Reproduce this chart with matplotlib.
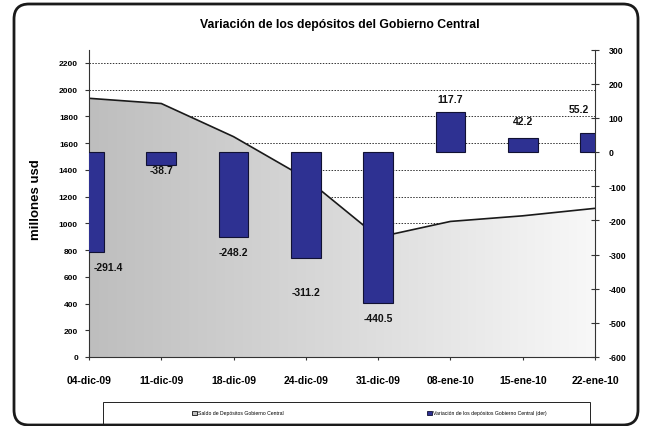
import numpy as np
import matplotlib
matplotlib.use('Agg')
import matplotlib.pyplot as plt
from matplotlib.colors import LinearSegmentedColormap
from matplotlib.patches import FancyBboxPatch, Rectangle, Patch

plt.rcParams['font.family'] = ['Liberation Sans', 'DejaVu Sans']
plt.rcParams['axes.unicode_minus'] = False

# datos
fechas = ['04-dic-09', '11-dic-09', '18-dic-09', '24-dic-09',
          '31-dic-09', '08-ene-10', '15-ene-10', '22-ene-10']
saldo = [1935, 1896, 1648, 1337, 896, 1014, 1056, 1112]
variacion = [-291.4, -38.7, -248.2, -311.2, -440.5, 117.7, 42.2, 55.2]
series = ['Saldo de Depósitos Gobierno Central',
          'Variación de los depósitos Gobierno Central (der)']

# separacion (px) entre barra y etiqueta
desfase = [15, 5, 15, 34, 15, 13, 17, 24]

W, H = 645, 427
fig = plt.figure(figsize=(W / 100, H / 100), dpi=100)

x = np.arange(len(fechas))
ax = fig.add_axes([89 / W, 1 - 358 / H, 506 / W, 307.5 / H])
ax2 = ax.twinx()

# area del saldo con degradado
area = ax.fill_between(x, saldo, 0, facecolor='none', edgecolor='none', zorder=1)
cmap = LinearSegmentedColormap.from_list('gris', ['#bebebe', '#dadada', '#f8f8f8'])
grad = np.linspace(0, 1, 256).reshape(1, -1)
img = ax.imshow(grad, cmap=cmap, extent=[0, 7, 0, 2300], aspect='auto',
                zorder=1.5, interpolation='bilinear')
img.set_clip_path(area.get_paths()[0], transform=ax.transData)
ax.plot(x, saldo, color='#1a1a1a', lw=1.2, zorder=2)

ax.set_xlim(0, 7)
ax.set_ylim(0, 2300)
ax.set_yticks(np.arange(0, 2201, 200))
ax.yaxis.grid(True, linestyle=(0, (1.5, 1.5)), color='#333333', lw=0.7)
ax.set_axisbelow(True)

# barras de variacion
ax2.bar(x, variacion, width=0.41, color='#2e3192', edgecolor='#111133', lw=0.8, zorder=3)
ax2.set_ylim(-600, 300)
ax2.set_yticks(np.arange(-600, 301, 100))

for i, v in enumerate(variacion):
    off = desfase[i] * 0.72
    dy = -off if v < 0 else off
    ha, dx = 'center', 0
    if i == 0:
        ha, dx = 'left', 3
    elif i == len(variacion) - 1:
        ha, dx = 'right', -4
    ax2.annotate('%.1f' % v, (x[i], v), xytext=(dx, dy), textcoords='offset points',
                 ha=ha, va='center', fontsize=7.5, fontweight='bold', color='#111111',
                 annotation_clip=False)

ax.set_xticks(x)
ax.set_xticklabels(fechas, fontsize=7.5, fontweight='bold')
for a in (ax, ax2):
    a.spines['top'].set_visible(False)
ax.spines['right'].set_visible(False)
ax2.spines['left'].set_visible(False)
ax2.spines['bottom'].set_visible(False)
ax.spines['left'].set_color('#333333')
ax.spines['bottom'].set_color('#333333')
ax2.spines['right'].set_color('#333333')

ax.tick_params(axis='x', direction='inout', length=4, pad=11, color='#333333')
ax.tick_params(axis='y', direction='out', length=3, pad=5, labelsize=6, color='#333333')
ax2.tick_params(axis='y', direction='inout', length=6, pad=7, labelsize=6.3, color='#333333')
for lbl in ax.get_yticklabels() + ax2.get_yticklabels():
    lbl.set_fontweight('bold')

fig.text(36 / W, 1 - 200 / H, 'millones usd', rotation=90, ha='center', va='center',
         fontsize=9.5, fontweight='bold')

fig.text(340 / W, 1 - 25 / H, 'Variación de los depósitos del Gobierno Central',
         ha='center', va='center', fontsize=8.8, fontweight='bold')

# leyenda
fig.patches.append(Rectangle((1.03, 0.02), 4.87, 0.22, transform=fig.dpi_scale_trans,
                             fill=False, ec='#222222', lw=0.7))
handles = [Patch(facecolor='#bebebe', edgecolor='#111111', lw=0.6),
           Patch(facecolor='#2e3192', edgecolor='#111133', lw=0.6)]
for h, lab, cx in zip(handles, series, [238, 487]):
    fig.legend([h], [lab], loc='center', bbox_to_anchor=(cx / W, 1 - 414 / H),
               frameon=False, fontsize=3.7, handlelength=0.9, handleheight=0.9,
               handletextpad=0.2)

# marco redondeado
fig.patches.append(FancyBboxPatch((0.14, 0.01), 6.24, 4.21, boxstyle='round,pad=0,rounding_size=0.15',
                                  transform=fig.dpi_scale_trans, fill=False,
                                  ec='#1a1a1a', lw=2))

fig.savefig('out.png', dpi=100)
